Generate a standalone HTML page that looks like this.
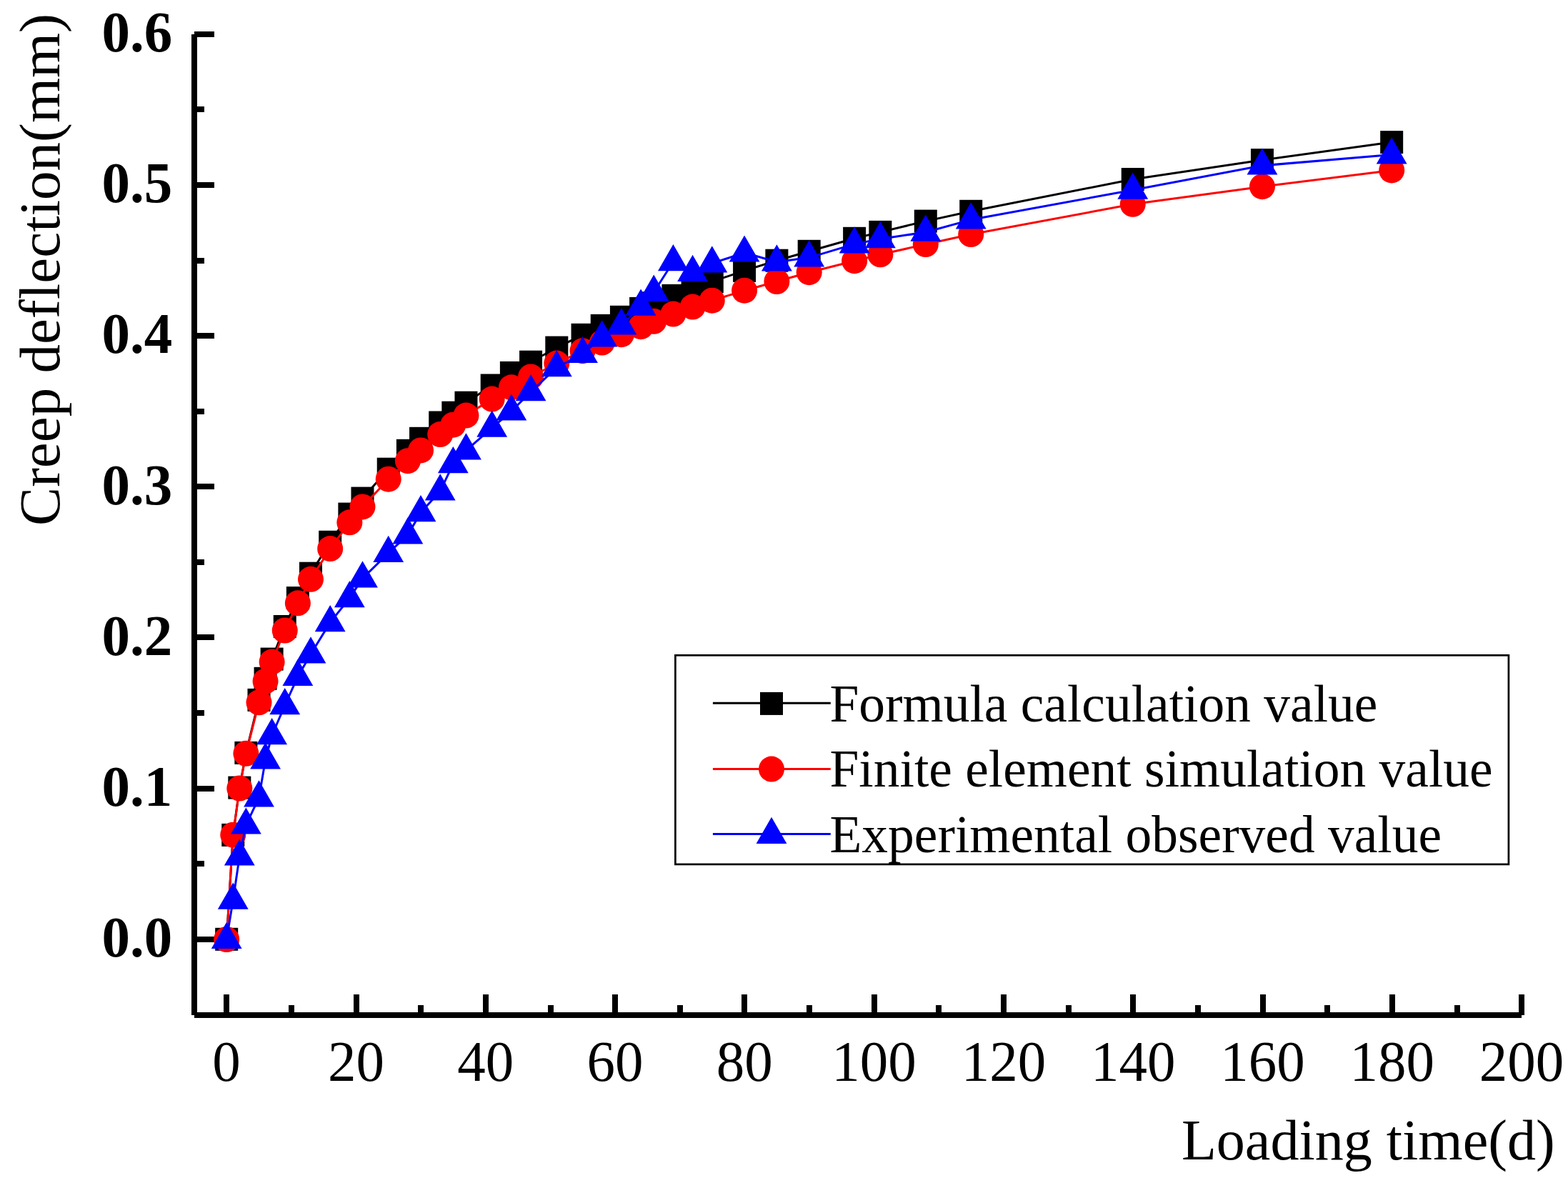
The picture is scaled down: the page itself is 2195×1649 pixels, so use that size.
<!DOCTYPE html>
<html lang="en"><head><meta charset="utf-8"><title>Creep deflection vs loading time</title>
<style>html,body{margin:0;padding:0;background:#fff}body{width:2195px;height:1649px;overflow:hidden}svg{display:block}text{font-family:"Liberation Serif","Times New Roman",serif;fill:#000}</style></head><body>
<svg width="2195" height="1649" viewBox="0 0 2195 1649">
<rect width="2195" height="1649" fill="#fff"/>
<g stroke="#000" stroke-width="8" fill="none" shape-rendering="crispEdges">
<line x1="272" y1="48" x2="272" y2="1421"/>
<line x1="272" y1="1421" x2="2130" y2="1421"/>
<line x1="272" y1="48" x2="300" y2="48"/>
<line x1="272" y1="153" x2="286" y2="153"/>
<line x1="272" y1="259" x2="300" y2="259"/>
<line x1="272" y1="365" x2="286" y2="365"/>
<line x1="272" y1="470" x2="300" y2="470"/>
<line x1="272" y1="576" x2="286" y2="576"/>
<line x1="272" y1="681" x2="300" y2="681"/>
<line x1="272" y1="787" x2="286" y2="787"/>
<line x1="272" y1="892" x2="300" y2="892"/>
<line x1="272" y1="998" x2="286" y2="998"/>
<line x1="272" y1="1104" x2="300" y2="1104"/>
<line x1="272" y1="1209" x2="286" y2="1209"/>
<line x1="272" y1="1315" x2="300" y2="1315"/>
<line x1="317" y1="1421" x2="317" y2="1392"/>
<line x1="408" y1="1421" x2="408" y2="1407"/>
<line x1="499" y1="1421" x2="499" y2="1392"/>
<line x1="589" y1="1421" x2="589" y2="1407"/>
<line x1="680" y1="1421" x2="680" y2="1392"/>
<line x1="771" y1="1421" x2="771" y2="1407"/>
<line x1="861" y1="1421" x2="861" y2="1392"/>
<line x1="952" y1="1421" x2="952" y2="1407"/>
<line x1="1042" y1="1421" x2="1042" y2="1392"/>
<line x1="1133" y1="1421" x2="1133" y2="1407"/>
<line x1="1224" y1="1421" x2="1224" y2="1392"/>
<line x1="1314" y1="1421" x2="1314" y2="1407"/>
<line x1="1405" y1="1421" x2="1405" y2="1392"/>
<line x1="1496" y1="1421" x2="1496" y2="1407"/>
<line x1="1586" y1="1421" x2="1586" y2="1392"/>
<line x1="1677" y1="1421" x2="1677" y2="1407"/>
<line x1="1768" y1="1421" x2="1768" y2="1392"/>
<line x1="1858" y1="1421" x2="1858" y2="1407"/>
<line x1="1949" y1="1421" x2="1949" y2="1392"/>
<line x1="2040" y1="1421" x2="2040" y2="1407"/>
<line x1="2130" y1="1421" x2="2130" y2="1392"/>
</g>
<polyline points="317.2,1314.8 326.26,1168.9 335.32,1102.6 344.38,1053.9 362.5,979.9 371.57,949.8 380.63,922.6 398.75,877 416.87,837.1 434.99,802.7 462.18,758.8 489.36,719.6 507.48,697.6 543.73,656.7 570.91,630.8 589.03,613.8 616.21,591.5 634.34,577.7 652.46,563.7 688.7,539.5 715.88,521.9 743.07,506.7 779.31,486.6 815.56,468.8 842.74,455.9 869.92,443.8 897.1,431.9 915.23,424.3 942.41,413.9 969.59,403.8 996.78,394.2 1042.08,378.9 1087.38,364.7 1132.69,351.8 1196.12,333.8 1232.36,324.9 1295.79,309.6 1359.22,295.8 1585.74,251 1766.96,224.1 1948.18,199.1" fill="none" stroke="#000" stroke-width="3" stroke-linejoin="round"/>
<g fill="#000"><rect x="301.2" y="1298.8" width="32" height="32"/><rect x="310.26" y="1152.9" width="32" height="32"/><rect x="319.32" y="1086.6" width="32" height="32"/><rect x="328.38" y="1037.9" width="32" height="32"/><rect x="346.5" y="963.9" width="32" height="32"/><rect x="355.57" y="933.8" width="32" height="32"/><rect x="364.63" y="906.6" width="32" height="32"/><rect x="382.75" y="861" width="32" height="32"/><rect x="400.87" y="821.1" width="32" height="32"/><rect x="418.99" y="786.7" width="32" height="32"/><rect x="446.18" y="742.8" width="32" height="32"/><rect x="473.36" y="703.6" width="32" height="32"/><rect x="491.48" y="681.6" width="32" height="32"/><rect x="527.73" y="640.7" width="32" height="32"/><rect x="554.91" y="614.8" width="32" height="32"/><rect x="573.03" y="597.8" width="32" height="32"/><rect x="600.21" y="575.5" width="32" height="32"/><rect x="618.34" y="561.7" width="32" height="32"/><rect x="636.46" y="547.7" width="32" height="32"/><rect x="672.7" y="523.5" width="32" height="32"/><rect x="699.88" y="505.9" width="32" height="32"/><rect x="727.07" y="490.7" width="32" height="32"/><rect x="763.31" y="470.6" width="32" height="32"/><rect x="799.56" y="452.8" width="32" height="32"/><rect x="826.74" y="439.9" width="32" height="32"/><rect x="853.92" y="427.8" width="32" height="32"/><rect x="881.1" y="415.9" width="32" height="32"/><rect x="899.23" y="408.3" width="32" height="32"/><rect x="926.41" y="397.9" width="32" height="32"/><rect x="953.59" y="387.8" width="32" height="32"/><rect x="980.78" y="378.2" width="32" height="32"/><rect x="1026.08" y="362.9" width="32" height="32"/><rect x="1071.38" y="348.7" width="32" height="32"/><rect x="1116.69" y="335.8" width="32" height="32"/><rect x="1180.12" y="317.8" width="32" height="32"/><rect x="1216.36" y="308.9" width="32" height="32"/><rect x="1279.79" y="293.6" width="32" height="32"/><rect x="1343.22" y="279.8" width="32" height="32"/><rect x="1569.74" y="235" width="32" height="32"/><rect x="1750.96" y="208.1" width="32" height="32"/><rect x="1932.18" y="183.1" width="32" height="32"/></g>
<polyline points="317.2,1315 326.26,1168.7 335.32,1103.6 344.38,1054.8 362.5,983.3 371.57,953.6 380.63,926.6 398.75,882.5 416.87,844.3 434.99,810.8 462.18,768.1 489.36,731.3 507.48,709.4 543.73,670.7 570.91,645.2 589.03,630.4 616.21,608.1 634.34,594.7 652.46,581.6 688.7,558.6 715.88,542.3 743.07,527.5 779.31,508.6 815.56,491.2 842.74,479.6 869.92,468.2 897.1,457.2 915.23,449.8 942.41,439.6 969.59,429.6 996.78,420.7 1042.08,406.7 1087.38,394 1132.69,381.2 1196.12,365.2 1232.36,356.3 1295.79,342 1359.22,328 1585.74,285.8 1766.96,261.2 1948.18,238.4" fill="none" stroke="#f00" stroke-width="3" stroke-linejoin="round"/>
<g fill="#f00"><circle cx="317.2" cy="1315" r="18"/><circle cx="326.26" cy="1168.7" r="18"/><circle cx="335.32" cy="1103.6" r="18"/><circle cx="344.38" cy="1054.8" r="18"/><circle cx="362.5" cy="983.3" r="18"/><circle cx="371.57" cy="953.6" r="18"/><circle cx="380.63" cy="926.6" r="18"/><circle cx="398.75" cy="882.5" r="18"/><circle cx="416.87" cy="844.3" r="18"/><circle cx="434.99" cy="810.8" r="18"/><circle cx="462.18" cy="768.1" r="18"/><circle cx="489.36" cy="731.3" r="18"/><circle cx="507.48" cy="709.4" r="18"/><circle cx="543.73" cy="670.7" r="18"/><circle cx="570.91" cy="645.2" r="18"/><circle cx="589.03" cy="630.4" r="18"/><circle cx="616.21" cy="608.1" r="18"/><circle cx="634.34" cy="594.7" r="18"/><circle cx="652.46" cy="581.6" r="18"/><circle cx="688.7" cy="558.6" r="18"/><circle cx="715.88" cy="542.3" r="18"/><circle cx="743.07" cy="527.5" r="18"/><circle cx="779.31" cy="508.6" r="18"/><circle cx="815.56" cy="491.2" r="18"/><circle cx="842.74" cy="479.6" r="18"/><circle cx="869.92" cy="468.2" r="18"/><circle cx="897.1" cy="457.2" r="18"/><circle cx="915.23" cy="449.8" r="18"/><circle cx="942.41" cy="439.6" r="18"/><circle cx="969.59" cy="429.6" r="18"/><circle cx="996.78" cy="420.7" r="18"/><circle cx="1042.08" cy="406.7" r="18"/><circle cx="1087.38" cy="394" r="18"/><circle cx="1132.69" cy="381.2" r="18"/><circle cx="1196.12" cy="365.2" r="18"/><circle cx="1232.36" cy="356.3" r="18"/><circle cx="1295.79" cy="342" r="18"/><circle cx="1359.22" cy="328" r="18"/><circle cx="1585.74" cy="285.8" r="18"/><circle cx="1766.96" cy="261.2" r="18"/><circle cx="1948.18" cy="238.4" r="18"/></g>
<polyline points="317.2,1315.1 326.26,1259.9 335.32,1198.8 344.38,1154.8 362.5,1116.6 371.57,1063.6 380.63,1029.5 398.75,987.5 416.87,947.2 434.99,915.7 462.18,871.4 489.36,837.4 507.48,809.6 543.73,774.2 570.91,748.7 589.03,717.4 616.21,687.6 634.34,649.4 652.46,630.7 688.7,598.9 715.88,575.8 743.07,548.5 779.31,514.5 815.56,495.2 842.74,472.6 869.92,455.6 897.1,428.9 915.23,409 942.41,366.5 969.59,381.2 996.78,368.6 1042.08,353.8 1087.38,366.7 1132.69,360.6 1196.12,341.6 1232.36,334.5 1295.79,325 1359.22,307.6 1585.74,266 1766.96,231.8 1948.18,216.6" fill="none" stroke="#00f" stroke-width="3" stroke-linejoin="round"/>
<g fill="#00f"><polygon points="317.2,1290.7 338.6,1327.9 295.8,1327.9"/><polygon points="326.26,1235.5 347.66,1272.7 304.86,1272.7"/><polygon points="335.32,1174.4 356.72,1211.6 313.92,1211.6"/><polygon points="344.38,1130.4 365.78,1167.6 322.98,1167.6"/><polygon points="362.5,1092.2 383.9,1129.4 341.11,1129.4"/><polygon points="371.57,1039.2 392.97,1076.4 350.17,1076.4"/><polygon points="380.63,1005.1 402.03,1042.3 359.23,1042.3"/><polygon points="398.75,963.1 420.15,1000.3 377.35,1000.3"/><polygon points="416.87,922.8 438.27,960 395.47,960"/><polygon points="434.99,891.3 456.39,928.5 413.59,928.5"/><polygon points="462.18,847 483.58,884.2 440.78,884.2"/><polygon points="489.36,813 510.76,850.2 467.96,850.2"/><polygon points="507.48,785.2 528.88,822.4 486.08,822.4"/><polygon points="543.73,749.8 565.12,787 522.33,787"/><polygon points="570.91,724.3 592.31,761.5 549.51,761.5"/><polygon points="589.03,693 610.43,730.2 567.63,730.2"/><polygon points="616.21,663.2 637.61,700.4 594.81,700.4"/><polygon points="634.34,625 655.74,662.2 612.94,662.2"/><polygon points="652.46,606.3 673.86,643.5 631.06,643.5"/><polygon points="688.7,574.5 710.1,611.7 667.3,611.7"/><polygon points="715.88,551.4 737.28,588.6 694.48,588.6"/><polygon points="743.07,524.1 764.47,561.3 721.67,561.3"/><polygon points="779.31,490.1 800.71,527.3 757.91,527.3"/><polygon points="815.56,470.8 836.96,508 794.16,508"/><polygon points="842.74,448.2 864.14,485.4 821.34,485.4"/><polygon points="869.92,431.2 891.32,468.4 848.52,468.4"/><polygon points="897.1,404.5 918.5,441.7 875.7,441.7"/><polygon points="915.23,384.6 936.63,421.8 893.83,421.8"/><polygon points="942.41,342.1 963.81,379.3 921.01,379.3"/><polygon points="969.59,356.8 990.99,394 948.19,394"/><polygon points="996.78,344.2 1018.18,381.4 975.38,381.4"/><polygon points="1042.08,329.4 1063.48,366.6 1020.68,366.6"/><polygon points="1087.38,342.3 1108.79,379.5 1065.98,379.5"/><polygon points="1132.69,336.2 1154.09,373.4 1111.29,373.4"/><polygon points="1196.12,317.2 1217.52,354.4 1174.72,354.4"/><polygon points="1232.36,310.1 1253.76,347.3 1210.96,347.3"/><polygon points="1295.79,300.6 1317.19,337.8 1274.39,337.8"/><polygon points="1359.22,283.2 1380.62,320.4 1337.82,320.4"/><polygon points="1585.74,241.6 1607.14,278.8 1564.34,278.8"/><polygon points="1766.96,207.4 1788.36,244.6 1745.56,244.6"/><polygon points="1948.18,192.2 1969.58,229.4 1926.78,229.4"/></g>
<rect x="945.4" y="917.3" width="1166.5" height="292.6" fill="#fff" stroke="#000" stroke-width="2.7"/>
<line x1="997.9" y1="984.3" x2="1162.8" y2="984.3" stroke="#000" stroke-width="3"/>
<rect x="1064" y="968.9" width="32" height="32" fill="#000"/>
<text x="1161.5" y="1010.3" font-size="74" textLength="766.88" lengthAdjust="spacingAndGlyphs">Formula calculation value</text>
<line x1="997.9" y1="1076.4" x2="1162.8" y2="1076.4" stroke="#f00" stroke-width="3"/>
<circle cx="1080" cy="1076.6" r="18" fill="#f00"/>
<text x="1161.5" y="1101" font-size="74" textLength="928.13" lengthAdjust="spacingAndGlyphs">Finite element simulation value</text>
<line x1="997.9" y1="1167.5" x2="1162.8" y2="1167.5" stroke="#00f" stroke-width="3"/>
<g fill="#00f"><polygon points="1080,1143.7 1101.4,1180.9 1058.6,1180.9"/></g>
<text x="1161.5" y="1192.9" font-size="74" textLength="856.59" lengthAdjust="spacingAndGlyphs">Experimental observed value</text>
<text x="241.3" y="72.2" font-size="80.8" font-weight="bold" text-anchor="end" textLength="98.75" lengthAdjust="spacingAndGlyphs">0.6</text>
<text x="241.3" y="283.33" font-size="80.8" font-weight="bold" text-anchor="end" textLength="98.75" lengthAdjust="spacingAndGlyphs">0.5</text>
<text x="241.3" y="494.47" font-size="80.8" font-weight="bold" text-anchor="end" textLength="98.75" lengthAdjust="spacingAndGlyphs">0.4</text>
<text x="241.3" y="705.6" font-size="80.8" font-weight="bold" text-anchor="end" textLength="98.75" lengthAdjust="spacingAndGlyphs">0.3</text>
<text x="241.3" y="916.73" font-size="80.8" font-weight="bold" text-anchor="end" textLength="98.75" lengthAdjust="spacingAndGlyphs">0.2</text>
<text x="241.3" y="1127.87" font-size="80.8" font-weight="bold" text-anchor="end" textLength="98.75" lengthAdjust="spacingAndGlyphs">0.1</text>
<text x="241.3" y="1339" font-size="80.8" font-weight="bold" text-anchor="end" textLength="98.75" lengthAdjust="spacingAndGlyphs">0.0</text>
<text x="317.1" y="1512.5" font-size="80" text-anchor="middle" textLength="39.5" lengthAdjust="spacingAndGlyphs">0</text>
<text x="498.4" y="1512.5" font-size="80" text-anchor="middle" textLength="79" lengthAdjust="spacingAndGlyphs">20</text>
<text x="679.7" y="1512.5" font-size="80" text-anchor="middle" textLength="79" lengthAdjust="spacingAndGlyphs">40</text>
<text x="861" y="1512.5" font-size="80" text-anchor="middle" textLength="79" lengthAdjust="spacingAndGlyphs">60</text>
<text x="1042.3" y="1512.5" font-size="80" text-anchor="middle" textLength="79" lengthAdjust="spacingAndGlyphs">80</text>
<text x="1223.6" y="1512.5" font-size="80" text-anchor="middle" textLength="118.5" lengthAdjust="spacingAndGlyphs">100</text>
<text x="1404.9" y="1512.5" font-size="80" text-anchor="middle" textLength="118.5" lengthAdjust="spacingAndGlyphs">120</text>
<text x="1586.2" y="1512.5" font-size="80" text-anchor="middle" textLength="118.5" lengthAdjust="spacingAndGlyphs">140</text>
<text x="1767.5" y="1512.5" font-size="80" text-anchor="middle" textLength="118.5" lengthAdjust="spacingAndGlyphs">160</text>
<text x="1948.8" y="1512.5" font-size="80" text-anchor="middle" textLength="118.5" lengthAdjust="spacingAndGlyphs">180</text>
<text x="2130.1" y="1512.5" font-size="80" text-anchor="middle" textLength="118.5" lengthAdjust="spacingAndGlyphs">200</text>
<text x="1653.9" y="1622.9" font-size="80.2" textLength="522.72" lengthAdjust="spacingAndGlyphs">Loading time(d)</text>
<text transform="translate(82.6 736.1) rotate(-90)" font-size="80" textLength="717.01" lengthAdjust="spacingAndGlyphs">Creep deflection(mm)</text>
</svg></body></html>
